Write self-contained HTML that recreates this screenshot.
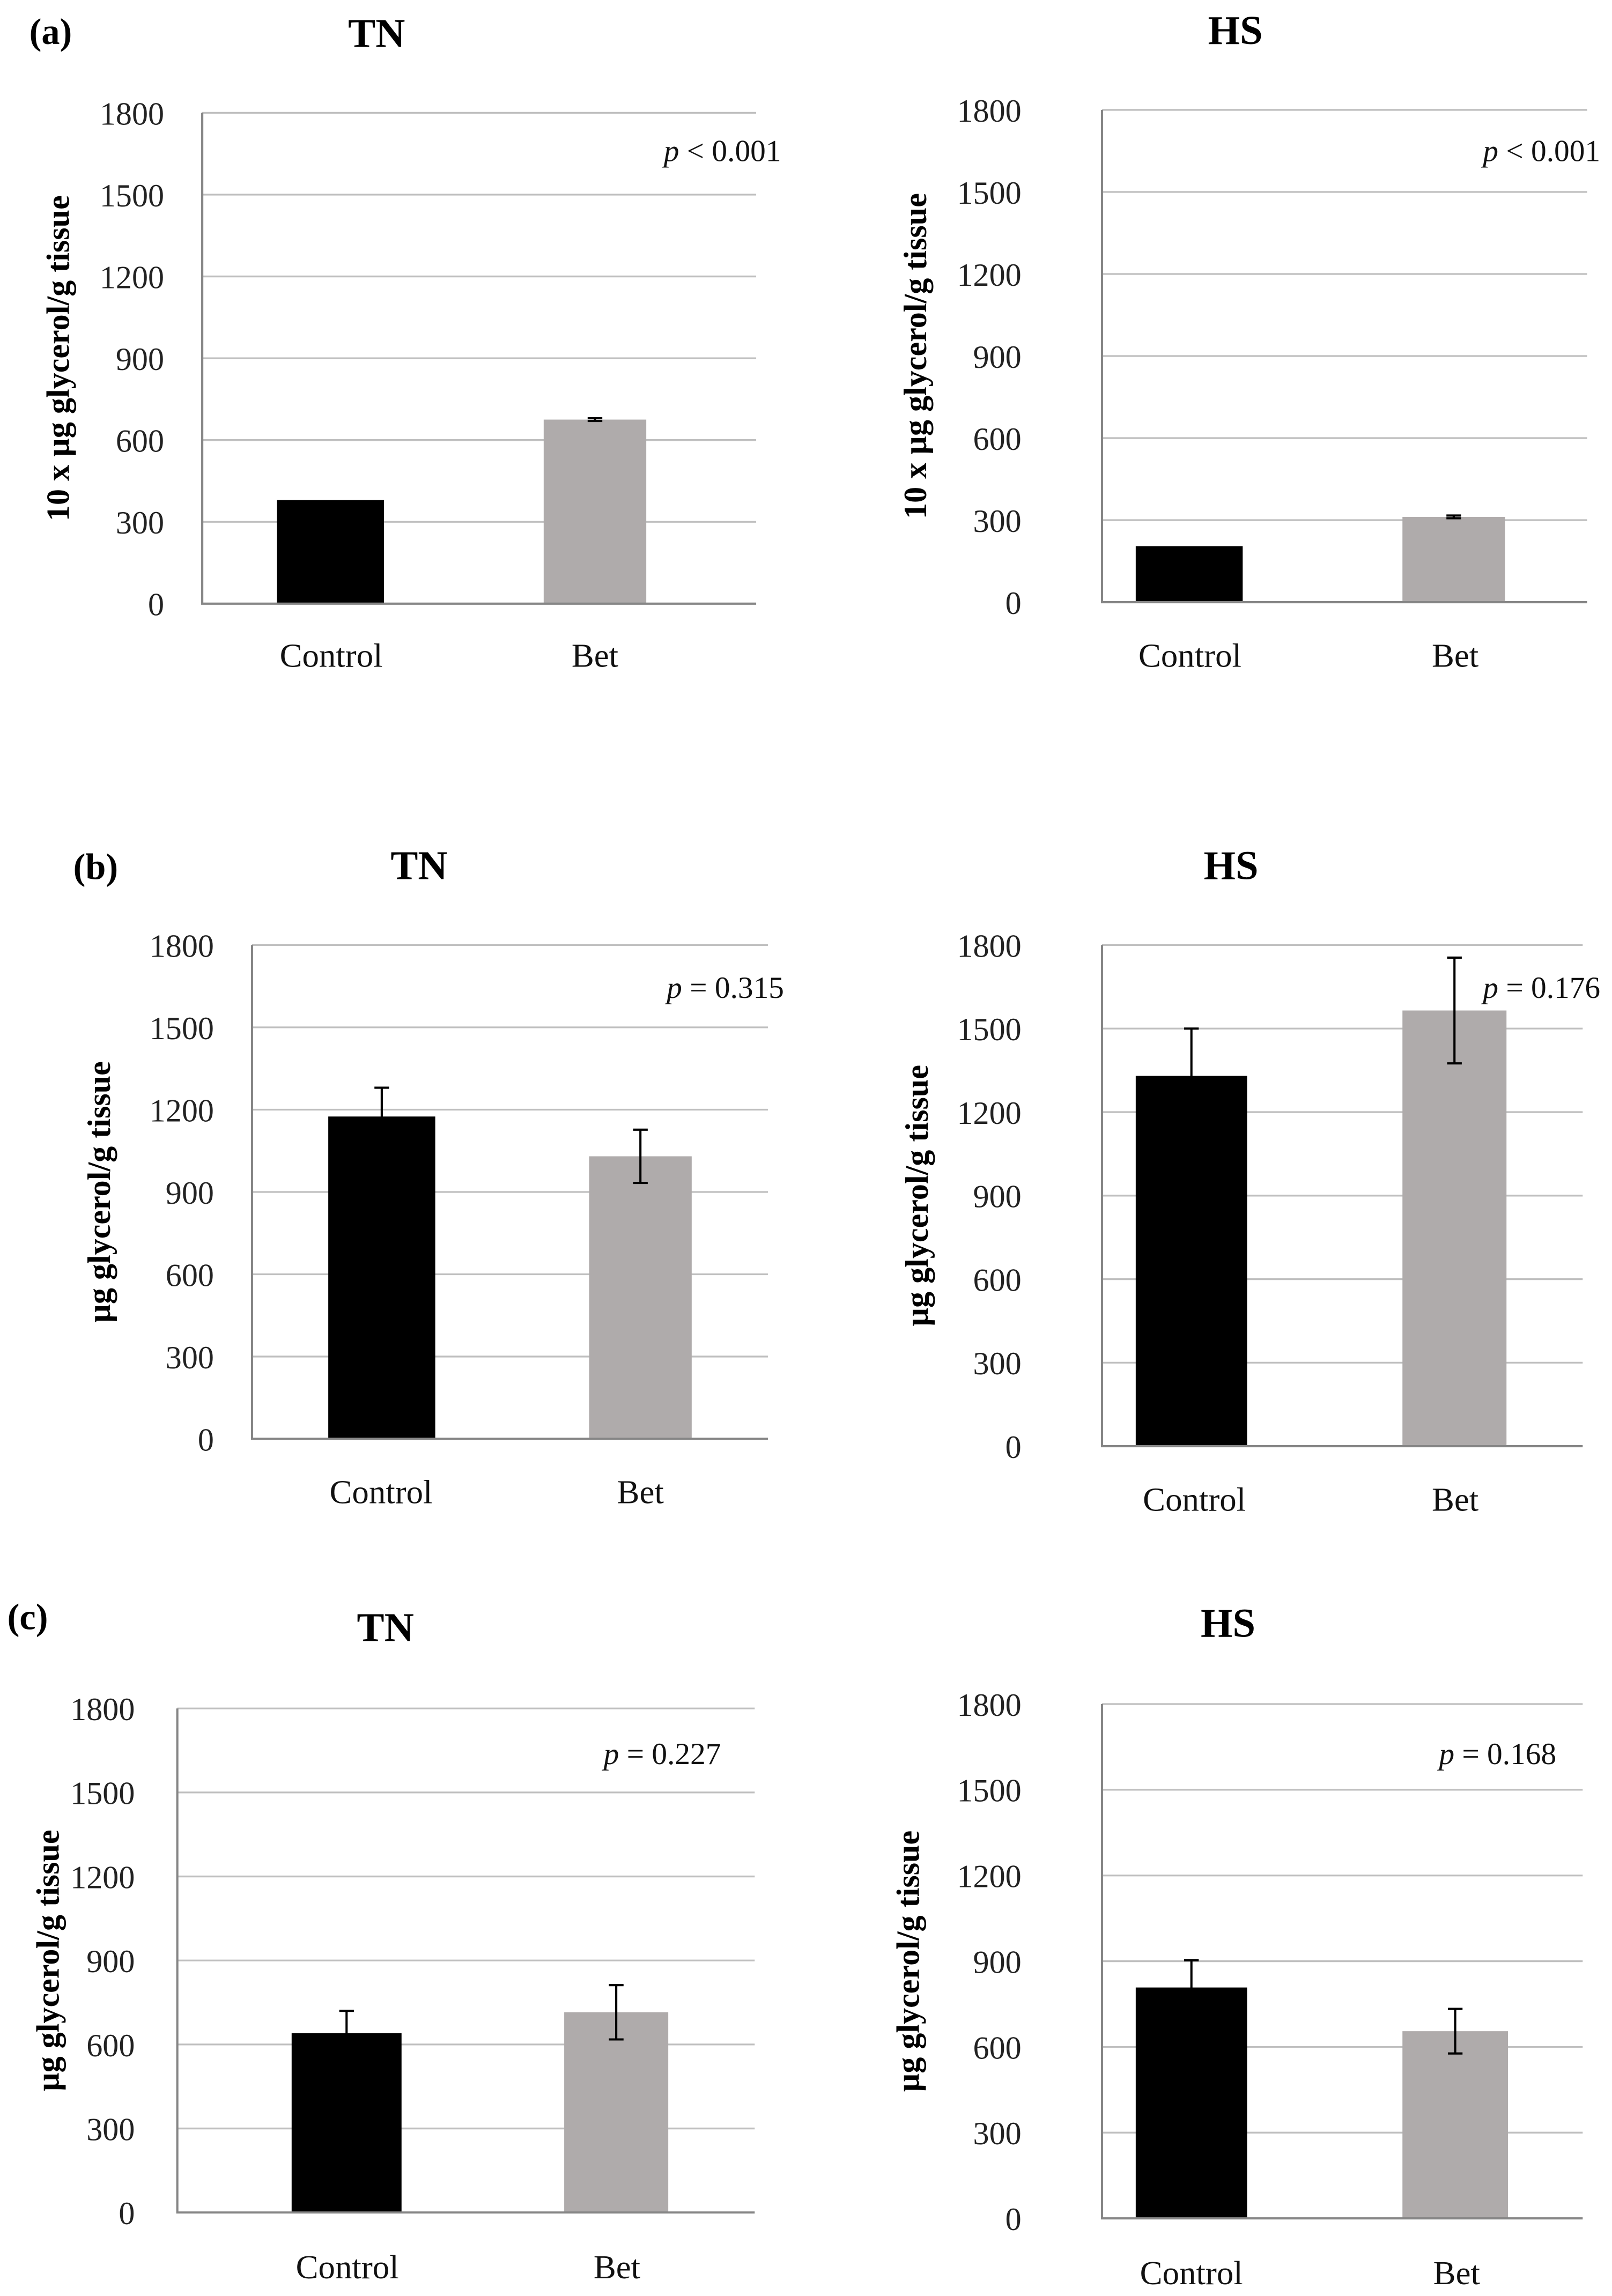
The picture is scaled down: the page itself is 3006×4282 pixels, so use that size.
<!DOCTYPE html>
<html><head><meta charset="utf-8"><style>
html,body{margin:0;padding:0;background:#fff}
svg{display:block}
text{font-family:"Liberation Serif",serif}
</style></head><body>
<svg id="fig" width="3006" height="4282" viewBox="0 0 1100 1567" preserveAspectRatio="none" xmlns="http://www.w3.org/2000/svg">
<rect width="1100" height="1567" fill="#fff"/>
<text x="20" y="30" font-size="25" font-weight="bold">(a)</text>
<text x="50" y="600" font-size="25" font-weight="bold">(b)</text>
<text x="5" y="1112" font-size="25" font-weight="bold">(c)</text>
</svg>
<script>
const categories = ["Control", "Bet"];
const ticks = [0, 300, 600, 900, 1200, 1500, 1800];
const valuesATN = [380, 675];
const errorsATN = [0, 5];
const valuesAHS = [205, 312];
const errorsAHS = [0, 5];
const valuesBTN = [1175, 1030];
const errorsBTN = [105, 97];
const valuesBHS = [1330, 1565];
const errorsBHS = [170, 190];
const valuesCTN = [640, 715];
const errorsCTN = [80, 97];
const valuesCHS = [808, 655];
const errorsCHS = [95, 78];
const pLabels = ["< 0.001", "< 0.001", "= 0.315", "= 0.176", "= 0.227", "= 0.168"];
const titles = ["TN", "HS", "TN", "HS", "TN", "HS"];
const yTitles = ["10 x µg glycerol/g tissue", "10 x µg glycerol/g tissue", "µg glycerol/g tissue", "µg glycerol/g tissue", "µg glycerol/g tissue", "µg glycerol/g tissue"];

const layout = [
 {l:138,r:516,t:77,b:412,bx:[189,371],bw:[73,70],tickR:112,yt:40,tx:257,ty:32,px:533,py:110,cy:455,cx:[226,406]},
 {l:752,r:1083,t:75,b:411,bx:[775,957],bw:[73,70],tickR:697,yt:625,tx:843,ty:30,px:1092,py:110,cy:455,cx:[812,993]},
 {l:172,r:524,t:645,b:982,bx:[224,402],bw:[73,70],tickR:146,yt:68,tx:286,ty:600,px:535,py:681,cy:1026,cx:[260,437]},
 {l:752,r:1080,t:645,b:987,bx:[775,957],bw:[76,71],tickR:697,yt:626,tx:840,ty:600,px:1092,py:681,cy:1031,cx:[815,993]},
 {l:121,r:515,t:1166,b:1510,bx:[199,385],bw:[75,71],tickR:92,yt:33,tx:263,ty:1120,px:492,py:1204,cy:1555,cx:[237,421]},
 {l:752,r:1080,t:1163,b:1514,bx:[775,957],bw:[76,72],tickR:697,yt:620,tx:838,ty:1117,px:1062,py:1204,cy:1559,cx:[813,994]}
];
const allValues = [valuesATN, valuesAHS, valuesBTN, valuesBHS, valuesCTN, valuesCHS];
const allErrors = [errorsATN, errorsAHS, errorsBTN, errorsBHS, errorsCTN, errorsCHS];
const colors = ["#000000", "#afabab"];
const NS = "http://www.w3.org/2000/svg";
const svg = document.getElementById("fig");
function mk(tag, attrs, parent){const e=document.createElementNS(NS,tag);for(const k in attrs)e.setAttribute(k,attrs[k]);(parent||svg).appendChild(e);return e;}

layout.forEach((L, i) => {
  const g = mk("g", {});
  
  
  const yScale = v => L.b - (v / 1800) * (L.b - L.t);
  ticks.forEach(tv => {
    const y = yScale(tv);
    if (tv > 0) {
      const gl = mk("line", {x1:L.l, x2:L.r, y1:y, y2:y, stroke:"#bfbfbf", "stroke-width":1.2}, g);
      
      
    }
    const tl = mk("text", {x:L.tickR, y:y+8, "font-size":22, "text-anchor":"end", fill:"#222"}, g);
    tl.textContent = tv;
    
    
  });
  allValues[i].forEach((v, j) => {
    const x = L.bx[j], w = L.bw[j];
    const bar = mk("rect", {x:x, y:yScale(v), width:w, height:L.b - yScale(v), fill:colors[j]}, g);
    
    
    const e = allErrors[i][j];
    const cxm = x + w/2;
    if (e > 0) {
      const eb = mk("path", {d:`M${cxm-5},${yScale(v+e)}H${cxm+5}M${cxm},${yScale(v+e)}V${yScale(v-e)}M${cxm-5},${yScale(v-e)}H${cxm+5}`, stroke:"#000", "stroke-width":1.5, fill:"none"}, g);
      
      
    }
    const cl = mk("text", {x:L.cx[j], y:L.cy, "font-size":23, "text-anchor":"middle", fill:"#111"}, g);
    cl.textContent = categories[j];
    
    
  });
  const ax = mk("path", {d:`M${L.l},${L.t}V${L.b}H${L.r}`, stroke:"#868686", "stroke-width":1.5, fill:"none"}, g);
  
  
  const cy = (L.t + L.b)/2;
  const yt = mk("text", {x:0, y:0, "font-size":22, "font-weight":"bold", "text-anchor":"middle", transform:`translate(${L.yt+7},${cy}) rotate(-90)`}, g);
  yt.textContent = yTitles[i];
  
  
  const tt = mk("text", {x:L.tx, y:L.ty, "font-size":28, "font-weight":"bold", "text-anchor":"middle"}, g);
  tt.textContent = titles[i];
  
  
  const pt = mk("text", {x:L.px, y:L.py, "font-size":21, "text-anchor":"end", fill:"#111"}, g);
  pt.innerHTML = '<tspan font-style="italic">p</tspan> ' + pLabels[i];
  
  
});
</script>
</body></html>
